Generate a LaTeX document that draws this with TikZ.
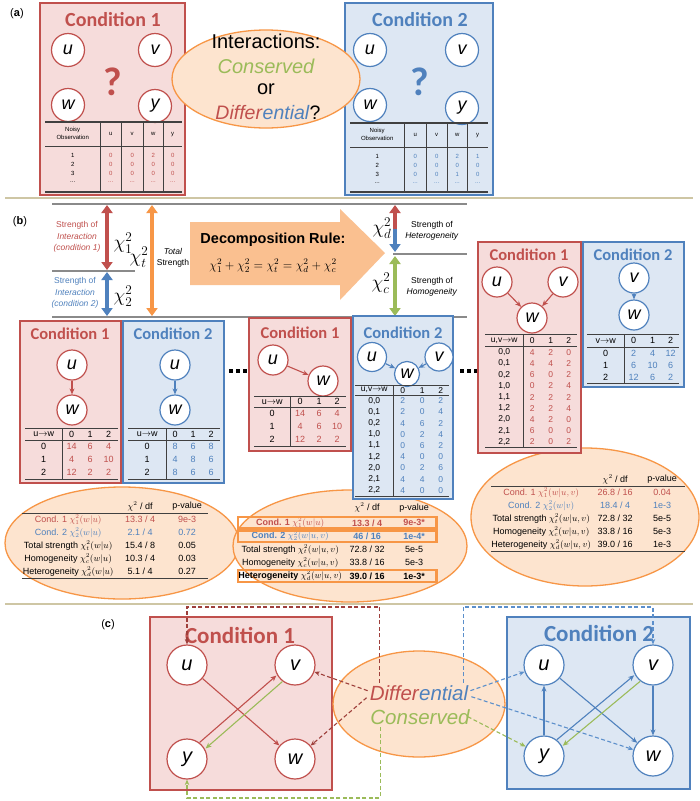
\documentclass[tikz,border=0pt]{standalone}
\usepackage{fix-cm}
\usepackage{fontspec}
\setmainfont{Liberation Sans}
\newfontfamily\titlefont{Carlito}
\usetikzlibrary{matrix, positioning, arrows.meta}

\definecolor{cred}{HTML}{C0504D}
\definecolor{cblue}{HTML}{4F81BD}
\definecolor{cgreen}{HTML}{9BBB59}
\definecolor{corange}{HTML}{F79646}
\definecolor{pinkfill}{HTML}{F6DCDB}
\definecolor{bluefill}{HTML}{DDE7F3}
\definecolor{ellfill}{HTML}{FDE4CF}
\definecolor{arrfill}{HTML}{FAC090}
\definecolor{sepline}{HTML}{CEC6A4}
\definecolor{rulegray}{HTML}{8A8A8A}
\definecolor{dashred}{HTML}{9E3F3B}
\definecolor{dashblue}{HTML}{5B8FCB}

\newcommand{\fsz}[1]{\fontsize{#1}{#1}\selectfont}
\newcommand{\noisyhead}{\fontsize{6}{8}\selectfont\begin{tabular}{@{}c@{}}Noisy\\Observation\end{tabular}}
\newcommand{\numrules}[2]{%
  \draw[tabrule] (#1.north west) -- (#1.north east);
  \draw[tabrule] (#1-1-1.south west) -- (#1-1-4.south east);
  \draw[tabrule, line width=1.3pt] (#1.south west) -- (#1.south east);
  \draw[tabrule] (#1-1-1.north east) -- (#1-#2-1.south east);}

\tikzset{
  condbox/.style 2 args={draw=#1, fill=#2, line width=1.5pt},
  condtitle/.style 2 args={text=#1, font=\titlefont\bfseries\fsz{#2}},
  var/.style={circle, draw=#1, fill=white, line width=1.2pt, inner sep=0pt,
    minimum size=30pt, font=\fsz{18}\itshape},
  link/.style={color=#1, line width=1.1pt, -{Stealth[length=6pt,width=5pt]}},
  dlink/.style={color=#1, line width=1.1pt, dash pattern=on 4pt off 2.5pt,
    -{Stealth[length=5.5pt,width=4.5pt]}},
  bigarrow/.style={line width=3.5pt, color=#1,
    {Triangle[length=8pt,width=11pt]}-{Triangle[length=8pt,width=11pt]}},
  halfarrow/.style={line width=3.5pt, color=#1, -{Triangle[length=8pt,width=11pt]}},
  grayrule/.style={rulegray, line width=1.5pt},
  seprule/.style={sepline, line width=1.5pt},
  tabrule/.style={black!75, line width=1pt},
  ell/.style={draw=corange, fill=ellfill, line width=1.3pt},
  hibox/.style={draw=corange, line width=2.5pt},
  tabbase/.style={matrix of nodes, anchor=north west, inner sep=0pt,
    nodes={anchor=center, inner sep=0pt, font=\fsz{9}}},
  ntab/.style n args={5}{tabbase,
    column 1/.style={nodes={minimum width=#1}},
    column 2/.style={nodes={minimum width=#2, text=#5}},
    column 3/.style={nodes={minimum width=#3, text=#5}},
    column 4/.style={nodes={minimum width=#4, text=#5}}},
}

\begin{document}
\begin{tikzpicture}[x=1pt, y=-1pt]
\useasboundingbox (0,0) rectangle (700,801);
\fill[white] (0,0) rectangle (700,801);

% ---------- (a) ----------
\node[font=\fsz{11}] (lbla) at (17,14) {(\textbf{a})};
\draw[condbox={cred}{pinkfill}] (40,3) rectangle (185,195);
\node[condtitle={cred}{20}] (a1t) at (113,20) {Condition 1};
\node[var=cred, minimum size=33pt] (a1u) at (68,50) {u};
\node[var=cred, minimum size=33pt] (a1v) at (155,50) {v};
\node[var=cred, minimum size=33pt] (a1w) at (68,105) {w};
\node[var=cred, minimum size=33pt] (a1y) at (155,106) {y};
\node[text=cred, font=\titlefont\bfseries\fsz{40}] (a1q) at (113,82) {?};
\matrix (a1tab) [tabbase, nodes={minimum height=9pt, font=\fsz{6}, text=cred},
  column 1/.style={nodes={minimum width=55pt, text=black}},
  column 2/.style={nodes={minimum width=21pt}},
  column 3/.style={nodes={minimum width=22pt}},
  column 4/.style={nodes={minimum width=20pt}},
  column 5/.style={nodes={minimum width=19pt}},
  row 1/.style={nodes={minimum height=24pt, text=black}}] at (45,122)
{ \noisyhead & u & v & w & y \\[4.5pt]
  1 & 0 & 0 & 2 & 0 \\
  2 & 0 & 0 & 0 & 0 \\
  3 & 0 & 0 & 0 & 0 \\
  ... & ... & ... & ... & ... \\};
\draw[tabrule, line width=1.3pt] (a1tab.north west) -- (a1tab.north east);
\draw[tabrule] (a1tab-1-1.south west) -- (a1tab-1-5.south east);
\draw[tabrule, line width=1.3pt] ([yshift=-5pt]a1tab.south west) -- ([yshift=-5pt]a1tab.south east);
\foreach \c in {1,...,4}
  \draw[tabrule] (a1tab-1-\c.north east) -- ([yshift=-5pt]a1tab-5-\c.south east);

\draw[condbox={cblue}{bluefill}] (345,3) rectangle (493,195);
\node[condtitle={cblue}{20}] (a2t) at (420,20) {Condition 2};
\node[var=cblue, minimum size=33pt] (a2u) at (370,50) {u};
\node[var=cblue, minimum size=33pt] (a2v) at (462,50) {v};
\node[var=cblue, minimum size=33pt] (a2w) at (370,105) {w};
\node[var=cblue, minimum size=33pt] (a2y) at (462,108) {y};
\node[text=cblue, font=\titlefont\bfseries\fsz{40}] (a2q) at (420,82) {?};
\matrix (a2tab) [tabbase, nodes={minimum height=9pt, font=\fsz{6}, text=cblue},
  column 1/.style={nodes={minimum width=54pt, text=black}},
  column 2/.style={nodes={minimum width=22pt}},
  column 3/.style={nodes={minimum width=21pt}},
  column 4/.style={nodes={minimum width=20pt}},
  column 5/.style={nodes={minimum width=21pt}},
  row 1/.style={nodes={minimum height=24pt, text=black}}] at (350,123)
{ \noisyhead & u & v & w & y \\[4.5pt]
  1 & 0 & 0 & 2 & 1 \\
  2 & 0 & 0 & 0 & 0 \\
  3 & 0 & 0 & 1 & 0 \\
  ... & ... & ... & ... & ... \\};
\draw[tabrule, line width=1.3pt] (a2tab.north west) -- (a2tab.north east);
\draw[tabrule] (a2tab-1-1.south west) -- (a2tab-1-5.south east);
\draw[tabrule, line width=1.3pt] ([yshift=-4pt]a2tab.south west) -- ([yshift=-4pt]a2tab.south east);
\foreach \c in {1,...,4}
  \draw[tabrule] (a2tab-1-\c.north east) -- ([yshift=-4pt]a2tab-5-\c.south east);

\draw[ell] (266,79) ellipse [x radius=94pt, y radius=49pt];
\node[font=\fsz{20}] (inter) at (266,41) {Interactions:};
\node[font=\fsz{20}\itshape, text=cgreen] (consa) at (266,66) {Conserved};
\node[font=\fsz{20}] (ora) at (266,89) {or};
\node[font=\fsz{19.5}] (diffq) at (268,113) {\textcolor{cred}{\textit{Differ}}\textcolor{cblue}{\textit{ential}}?};

\draw[seprule] (5,198) -- (693,198);

% ---------- (b) ----------
\node[font=\fsz{11}] (lblb) at (20,222) {(\textbf{b})};
\coordinate (gtl) at (52,204);  \coordinate (gtr) at (467,204);
\coordinate (gml) at (52,271);  \coordinate (gmr) at (135,271);
\coordinate (gdl) at (393,254); \coordinate (gdr) at (467,254);
\coordinate (gbl) at (52,317);  \coordinate (gbr) at (467,317);
\draw[grayrule] (gtl) -- (gtr);
\draw[grayrule] (gml) -- (gmr);
\draw[grayrule] (gdl) -- (gdr);
\draw[grayrule] (gbl) -- (gbr);

\fill[arrfill] (190,222) -- (340,222) -- (340,209) -- (385,253) -- (340,300)
  -- (340,285) -- (190,285) -- cycle;

\coordinate (chi1top) at (107,205); \coordinate (chi1bot) at (107,270);
\coordinate (chi2top) at (107,272); \coordinate (chi2bot) at (107,316);
\coordinate (chittop) at (152,205); \coordinate (chitbot) at (152,316);
\coordinate (chidtop) at (395,205); \coordinate (chidmid) at (395,229);
\coordinate (chidbot) at (395,252);
\coordinate (chictop) at (395,256); \coordinate (chicbot) at (395,316);
\draw[bigarrow=cred] (chi1top) -- (chi1bot);
\draw[bigarrow=cblue] (chi2top) -- (chi2bot);
\draw[bigarrow=corange] (chittop) -- (chitbot);
\draw[halfarrow=cred] (chidmid) -- (chidtop);
\draw[halfarrow=cblue] (chidmid) -- (chidbot);
\draw[bigarrow=cgreen] (chictop) -- (chicbot);

\node[text=cred, align=center, font=\fontsize{8.5}{11.5}\selectfont] (s1lab) at (77,237)
  {Strength of\\\textit{Interaction}\\\textit{(condition 1)}};
\node[text=cblue, align=center, font=\fontsize{8.5}{11.5}\selectfont] (s2lab) at (75,293)
  {Strength of\\\textit{Interaction}\\\textit{(condition 2)}};
\node[font=\fsz{19}] (chi1) at (123,243) {$\chi_1^2$};
\node[font=\fsz{19}] (chi2) at (123,296) {$\chi_2^2$};
\node[font=\fsz{19}] (chit) at (139,257) {$\chi_t^2$};
\node[align=center, font=\fontsize{8.5}{11}\selectfont] (totlab) at (173,258)
  {\textit{Total}\\Strength};
\node[font=\bfseries\fsz{14.5}] (decomp) at (273,240) {Decomposition Rule:};
\node[font=\fsz{12.5}] (rulef) at (273,266)
  {$\chi_1^2+\chi_2^2=\chi_t^2=\chi_d^2+\chi_c^2$};
\node[font=\fsz{19}] (chid) at (382,228) {$\chi_d^2$};
\node[font=\fsz{19}] (chic) at (381,283) {$\chi_c^2$};
\node[align=center, font=\fontsize{8.5}{11.5}\selectfont] (hetlab) at (432,231)
  {Strength of\\\textit{Heterogeneity}};
\node[align=center, font=\fontsize{8.5}{11.5}\selectfont] (homlab) at (432,287)
  {Strength of\\\textit{Homogeneity}};

% result ellipses (behind the boxes)
\draw[ell] (122,543) ellipse [x radius=117pt, y radius=56pt];
\draw[ell] (350,546) ellipse [x radius=117pt, y radius=56pt];
\draw[ell] (585,517) ellipse [x radius=114pt, y radius=69pt];

% left pair: w|u
\draw[condbox={cred}{pinkfill}] (20,321) rectangle (121,483);
\node[condtitle={cred}{16.5}] (l1t) at (70,334) {Condition 1};
\node[var=cred] (l1u) at (72,365) {u};
\node[var=cred] (l1w) at (72,410) {w};
\draw[link=cred] (l1u) edge (l1w);
\matrix (l1tab) [ntab={37pt}{19pt}{18pt}{19pt}{cred}, nodes={minimum height=13pt},
  row 1/.style={nodes={minimum height=12pt, text=black}}] at (25,428)
{ u$\to$w & 0 & 1 & 2 \\
  0 & 14 & 6 & 4 \\
  1 & 4 & 6 & 10 \\
  2 & 12 & 2 & 2 \\};
\numrules{l1tab}{4}

\draw[condbox={cblue}{bluefill}] (123,321) rectangle (224,483);
\node[condtitle={cblue}{16.5}] (l2t) at (173,334) {Condition 2};
\node[var=cblue] (l2u) at (175,365) {u};
\node[var=cblue] (l2w) at (175,410) {w};
\draw[link=cblue] (l2u) edge (l2w);
\matrix (l2tab) [ntab={38pt}{18pt}{18pt}{18pt}{cblue}, nodes={minimum height=13pt},
  row 1/.style={nodes={minimum height=12pt, text=black}}] at (128,428)
{ u$\to$w & 0 & 1 & 2 \\
  0 & 8 & 6 & 8 \\
  1 & 4 & 8 & 6 \\
  2 & 8 & 6 & 6 \\};
\numrules{l2tab}{4}

\foreach \x in {229,236,243} \fill (\x,369) rectangle ++(4,4);

% middle pair: w|u versus w|u,v
\draw[condbox={cred}{pinkfill}] (249,318) rectangle (351,451);
\node[condtitle={cred}{16.5}] (m1t) at (300,333) {Condition 1};
\node[var=cred] (m1u) at (273,360) {u};
\node[var=cred] (m1w) at (323,381) {w};
\draw[link=cred] (m1u) edge (m1w);
\matrix (m1tab) [ntab={36pt}{20pt}{18pt}{18pt}{cred}, nodes={minimum height=13pt},
  row 1/.style={nodes={minimum height=11pt, text=black}}] at (254,396)
{ u$\to$w & 0 & 1 & 2 \\
  0 & 14 & 6 & 4 \\
  1 & 4 & 6 & 10 \\
  2 & 12 & 2 & 2 \\};
\numrules{m1tab}{4}

\draw[condbox={cblue}{bluefill}] (353,316) rectangle (453,499);
\node[condtitle={cblue}{16.5}] (m2t) at (403,333) {Condition 2};
\node[var=cblue, minimum size=29pt] (m2u) at (372,357) {u};
\node[var=cblue, minimum size=28pt] (m2v) at (439,357) {v};
\node[var=cblue, minimum size=25pt] (m2w) at (407,374) {w};
\draw[link=cblue] (m2u) edge (m2w) (m2v) edge (m2w);
\matrix (m2tab) [ntab={38pt}{19pt}{20pt}{17pt}{cblue},
  nodes={minimum height=11.2pt, font=\fsz{8.5}},
  row 1/.style={nodes={minimum height=10pt, text=black}}] at (355,385)
{ u,v$\to$w & 0 & 1 & 2 \\
  0,0 & 2 & 0 & 2 \\
  0,1 & 2 & 0 & 4 \\
  0,2 & 4 & 6 & 2 \\
  1,0 & 0 & 2 & 4 \\
  1,1 & 0 & 6 & 2 \\
  1,2 & 4 & 0 & 0 \\
  2,0 & 0 & 2 & 6 \\
  2,1 & 4 & 4 & 0 \\
  2,2 & 4 & 0 & 0 \\};
\numrules{m2tab}{10}

\foreach \x in {460,467,474} \fill (\x,369) rectangle ++(4,4);

% right pair: w|u,v versus w|v
\draw[condbox={cred}{pinkfill}] (478,242) rectangle (581,453);
\node[condtitle={cred}{16.5}] (r1t) at (529,255) {Condition 1};
\node[var=cred] (r1u) at (497,282) {u};
\node[var=cred] (r1v) at (563,282) {v};
\node[var=cred] (r1w) at (532,318) {w};
\draw[link=cred] (r1u) edge (r1w) (r1v) edge (r1w);
\matrix (r1tab) [ntab={38pt}{18pt}{19pt}{17pt}{cred},
  nodes={minimum height=11.2pt, font=\fsz{8.5}},
  row 1/.style={nodes={minimum height=12.5pt, text=black}}] at (485,334)
{ u,v$\to$w & 0 & 1 & 2 \\
  0,0 & 4 & 2 & 0 \\
  0,1 & 4 & 4 & 2 \\
  0,2 & 6 & 0 & 2 \\
  1,0 & 0 & 2 & 4 \\
  1,1 & 2 & 2 & 2 \\
  1,2 & 2 & 2 & 4 \\
  2,0 & 4 & 2 & 0 \\
  2,1 & 6 & 0 & 0 \\
  2,2 & 2 & 0 & 2 \\};
\numrules{r1tab}{10}

\draw[condbox={cblue}{bluefill}] (583,242) rectangle (684,387);
\node[condtitle={cblue}{16.5}] (r2t) at (633,255) {Condition 2};
\node[var=cblue] (r2v) at (634,278) {v};
\node[var=cblue] (r2w) at (634,315) {w};
\draw[link=cblue] (r2v) edge (r2w);
\matrix (r2tab) [ntab={37pt}{19pt}{19pt}{17pt}{cblue}, nodes={minimum height=12pt},
  row 1/.style={nodes={minimum height=13pt, text=black}}] at (587,334)
{ v$\to$w & 0 & 1 & 2 \\
  0 & 2 & 4 & 12 \\
  1 & 6 & 10 & 6 \\
  2 & 12 & 6 & 2 \\};
\numrules{r2tab}{4}

% result tables
\matrix (e1tab) [tabbase, nodes={minimum height=13pt},
  column 1/.style={nodes={minimum width=92pt}},
  column 2/.style={nodes={minimum width=52pt}},
  column 3/.style={nodes={minimum width=42pt}},
  row 1/.style={nodes={minimum height=14pt}},
  row 2/.style={nodes={text=cred}},
  row 3/.style={nodes={text=cblue}}] at (22,499)
{ & $\chi^2$ / df & p-value \\
  Cond. 1 $\chi_1^2(w\vert u)$ & 13.3 / 4 & 9e-3 \\
  Cond. 2 $\chi_2^2(w\vert u)$ & 2.1 / 4 & 0.72 \\
  Total strength $\chi_t^2(w\vert u)$ & 15.4 / 8 & 0.05 \\
  Homogeneity $\chi_c^2(w\vert u)$ & 10.3 / 4 & 0.03 \\
  Heterogeneity $\chi_d^2(w\vert u)$ & 5.1 / 4 & 0.27 \\};
\draw[tabrule] (e1tab-2-1.north west) -- (e1tab-2-3.north east);
\draw[tabrule, line width=1.3pt] (e1tab.south west) -- (e1tab.south east);

\matrix (e2tab) [tabbase, nodes={minimum height=13.3pt},
  column 1/.style={nodes={minimum width=104pt}},
  column 2/.style={nodes={minimum width=50pt}},
  column 3/.style={nodes={minimum width=44pt}},
  row 1/.style={nodes={minimum height=17pt}},
  row 2/.style={nodes={text=cred, font=\fsz{9}\bfseries}},
  row 3/.style={nodes={text=cblue, font=\fsz{9}\bfseries}},
  row 6/.style={nodes={font=\fsz{9}\bfseries}}] at (238,499)
{ & $\chi^2$ / df & p-value \\
  Cond. 1 $\chi_1^2(w\vert u)$ & 13.3 / 4 & 9e-3* \\
  Cond. 2 $\chi_2^2(w\vert u,v)$ & 46 / 16 & 1e-4* \\
  Total strength $\chi_t^2(w\vert u,v)$ & 72.8 / 32 & 5e-5 \\
  Homogeneity $\chi_c^2(w\vert u,v)$ & 33.8 / 16 & 5e-3 \\
  Heterogeneity $\chi_d^2(w\vert u,v)$ & 39.0 / 16 & 1e-3* \\};
\foreach \r in {2,3,6}
  \draw[hibox] ([yshift=-1pt]e2tab-\r-1.north west) rectangle ([yshift=1pt]e2tab-\r-3.south east);

\matrix (e3tab) [tabbase, nodes={minimum height=13pt},
  column 1/.style={nodes={minimum width=100pt}},
  column 2/.style={nodes={minimum width=48pt}},
  column 3/.style={nodes={minimum width=46pt}},
  row 1/.style={nodes={minimum height=14pt}},
  row 2/.style={nodes={text=cred}},
  row 3/.style={nodes={text=cblue}}] at (491,472)
{ & $\chi^2$ / df & p-value \\
  Cond. 1 $\chi_1^2(w\vert u,v)$ & 26.8 / 16 & 0.04 \\
  Cond. 2 $\chi_2^2(w\vert v)$ & 18.4 / 4 & 1e-3 \\
  Total strength $\chi_t^2(w\vert u,v)$ & 72.8 / 32 & 5e-5 \\
  Homogeneity $\chi_c^2(w\vert u,v)$ & 33.8 / 16 & 5e-3 \\
  Heterogeneity $\chi_d^2(w\vert u,v)$ & 39.0 / 16 & 1e-3 \\};
\draw[tabrule] (e3tab-2-1.north west) -- (e3tab-2-3.north east);
\draw[tabrule, line width=1.3pt] (e3tab.south west) -- (e3tab.south east);

\draw[seprule] (5,604) -- (693,604);

% ---------- (c) ----------
\node[font=\fsz{11}] (lblc) at (108,625) {(\textbf{c})};
\draw[condbox={cred}{pinkfill}] (150,617) rectangle (332,790);
\node[condtitle={cred}{23}] (c1t) at (240,635) {Condition 1};
\draw[condbox={cblue}{bluefill}] (507,617) rectangle (690,789);
\node[condtitle={cblue}{23}] (c2t) at (599,633) {Condition 2};
\draw[ell] (419,704) ellipse [x radius=86pt, y radius=53pt];

\node[var=cred, minimum size=40pt, font=\fsz{20}\itshape] (c1u) at (187,665) {u};
\node[var=cred, minimum size=40pt, font=\fsz{20}\itshape] (c1v) at (295,665) {v};
\node[var=cred, minimum size=40pt, font=\fsz{20}\itshape] (c1y) at (187,759) {y};
\node[var=cred, minimum size=40pt, font=\fsz{20}\itshape] (c1w) at (295,759) {w};
\draw[link=cred] (c1u) edge (c1w);
\draw[link=cred] ([shift={(-3,-3)}]c1y.41) -- ([shift={(-3,-3)}]c1v.221);
\draw[link=cgreen] ([shift={(3,3)}]c1v.221) -- ([shift={(3,3)}]c1y.41);

\node[var=cblue, minimum size=40pt, font=\fsz{20}\itshape] (c2u) at (544,665) {u};
\node[var=cblue, minimum size=40pt, font=\fsz{20}\itshape] (c2v) at (653,665) {v};
\node[var=cblue, minimum size=40pt, font=\fsz{20}\itshape] (c2y) at (544,756) {y};
\node[var=cblue, minimum size=40pt, font=\fsz{20}\itshape] (c2w) at (653,756) {w};
\draw[link=cblue] (c2y) edge (c2u) (c2u) edge (c2w) (c2v) edge (c2w);
\draw[link=cblue] ([shift={(-3,-3)}]c2y.40) -- ([shift={(-3,-3)}]c2v.220);
\draw[link=cgreen] ([shift={(3,3)}]c2v.220) -- ([shift={(3,3)}]c2y.40);

\node[anchor=base east, inner sep=0pt, text=cred, font=\fsz{20.5}\itshape] (diffa) at (419,700) {Differ};
\node[anchor=base west, inner sep=0pt, text=cblue, font=\fsz{20.5}\itshape] (diffb) at (419,700) {ential};
\node[anchor=base, inner sep=0pt, text=cgreen, font=\fsz{20.5}\itshape] (consc) at (420,724) {Conserved};

\coordinate (rcorner) at (187,607);
\coordinate (bcorner) at (653,607);
\coordinate (gcorner) at (187,798);
\draw[dlink=dashred] ([xshift=10pt, yshift=2pt]diffa.north west) |- (rcorner) -- (c1u);
\draw[dlink=dashred] ([xshift=-2pt, yshift=2pt]diffa.west) -- (c1v);
\draw[dlink=dashred] ([xshift=-3pt, yshift=-5pt]diffa.west) -- (c1w);
\draw[dlink=dashblue] ([xshift=-5pt, yshift=2pt]diffb.north east) |- (bcorner) -- (c2v);
\draw[dlink=dashblue] ([xshift=2pt, yshift=2pt]diffb.east) -- (c2u);
\draw[dlink=dashblue] ([xshift=3pt, yshift=-4pt]diffb.east) -- (c2w);
\draw[dlink=cgreen] ([xshift=10pt, yshift=-3pt]consc.south west) |- (gcorner) -- (c1y);
\draw[dlink=cgreen] ([xshift=-2pt]consc.east) -- (c2y);
\end{tikzpicture}
\end{document}
